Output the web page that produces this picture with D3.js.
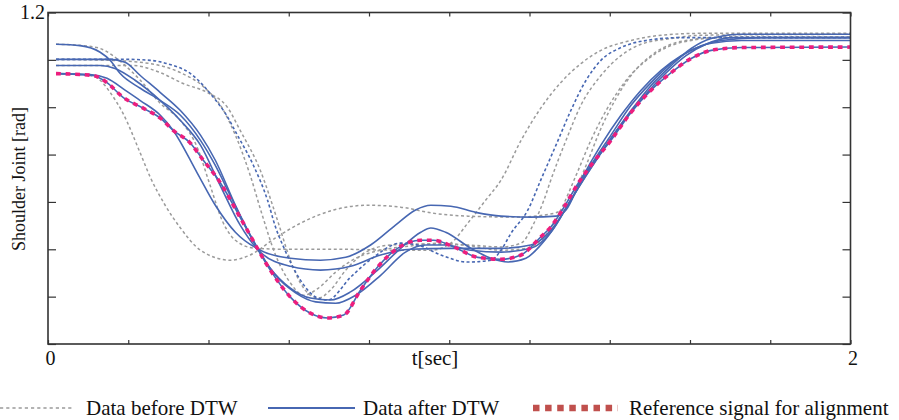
<!DOCTYPE html>
<html><head><meta charset="utf-8">
<script src="https://cdn.jsdelivr.net/npm/d3@7"></script>
<style>
body{margin:0;background:#fff}
svg{display:block}
text{font-family:"Liberation Serif","Times New Roman","DejaVu Serif",serif;fill:#111}
</style>
</head><body><svg id="c" width="899" height="420"></svg>
<script>
// ---- data: [t (sec), shoulder joint angle (rad)] ----
const reference = [[0.020,1.071],[0.112,1.067],[0.147,1.052],[0.187,1.021],[0.237,0.998],[0.280,0.977],[0.312,0.951],[0.355,0.924],[0.387,0.888],[0.422,0.850],[0.487,0.755],[0.554,0.656],[0.604,0.599],[0.654,0.565],[0.697,0.555],[0.737,0.561],[0.779,0.614],[0.821,0.662],[0.871,0.702],[0.929,0.719],[0.961,0.719],[1.011,0.705],[1.071,0.683],[1.129,0.679],[1.179,0.688],[1.228,0.726],[1.253,0.747],[1.286,0.789],[1.321,0.839],[1.353,0.877],[1.403,0.930],[1.453,0.989],[1.503,1.036],[1.553,1.073],[1.603,1.103],[1.653,1.120],[1.728,1.126],[2.000,1.127]];

const afterA = [[0.020,1.071],[0.105,1.069],[0.147,1.061],[0.192,1.036],[0.230,1.014],[0.280,0.983],[0.312,0.951],[0.372,0.861],[0.417,0.793],[0.467,0.736],[0.529,0.698],[0.604,0.681],[0.679,0.677],[0.742,0.683],[0.804,0.709],[0.866,0.751],[0.916,0.783],[0.954,0.793],[1.004,0.791],[1.066,0.778],[1.129,0.770],[1.203,0.768],[1.266,0.770],[1.291,0.783],[1.328,0.846],[1.378,0.920],[1.428,0.983],[1.478,1.036],[1.528,1.078],[1.578,1.109],[1.628,1.130],[1.678,1.141],[1.778,1.147],[2.000,1.147]];
const afterB = [[0.020,1.088],[0.130,1.088],[0.167,1.082],[0.217,1.057],[0.280,1.014],[0.330,0.972],[0.380,0.920],[0.429,0.835],[0.479,0.751],[0.529,0.694],[0.604,0.664],[0.679,0.656],[0.754,0.664],[0.829,0.688],[0.904,0.700],[1.004,0.702],[1.129,0.702],[1.203,0.709],[1.253,0.740],[1.303,0.804],[1.353,0.877],[1.403,0.941],[1.453,1.004],[1.503,1.052],[1.553,1.092],[1.603,1.120],[1.653,1.135],[1.728,1.141],[2.000,1.141]];
const afterC = [[0.020,1.133],[0.080,1.130],[0.130,1.116],[0.155,1.099],[0.180,1.071],[0.230,1.040],[0.280,1.014],[0.330,0.983],[0.380,0.930],[0.417,0.877],[0.454,0.814],[0.504,0.730],[0.554,0.660],[0.604,0.618],[0.654,0.597],[0.704,0.593],[0.754,0.610],[0.816,0.652],[0.879,0.702],[0.929,0.736],[0.954,0.745],[0.991,0.736],[1.054,0.702],[1.104,0.681],[1.146,0.673],[1.191,0.681],[1.228,0.709],[1.266,0.751],[1.303,0.804],[1.353,0.871],[1.403,0.934],[1.453,0.993],[1.503,1.046],[1.553,1.088],[1.603,1.124],[1.653,1.145],[1.728,1.154],[2.000,1.154]];
const afterD = [[0.020,1.101],[0.155,1.101],[0.192,1.095],[0.230,1.067],[0.280,1.031],[0.330,0.993],[0.380,0.941],[0.417,0.888],[0.467,0.793],[0.517,0.709],[0.567,0.645],[0.617,0.608],[0.667,0.589],[0.717,0.586],[0.767,0.603],[0.829,0.645],[0.891,0.694],[0.941,0.709],[0.991,0.709],[1.054,0.698],[1.129,0.694],[1.203,0.702],[1.253,0.736],[1.291,0.787],[1.341,0.856],[1.391,0.920],[1.441,0.977],[1.491,1.029],[1.541,1.073],[1.590,1.109],[1.640,1.133],[1.703,1.147],[2.000,1.147]];

const beforeBlue = [[0.020,1.101],[0.197,1.101],[0.255,1.099],[0.297,1.092],[0.355,1.071],[0.412,1.021],[0.442,0.987],[0.472,0.941],[0.512,0.877],[0.547,0.804],[0.567,0.747],[0.587,0.705],[0.629,0.635],[0.672,0.597],[0.697,0.593],[0.754,0.641],[0.811,0.683],[0.879,0.713],[0.921,0.709],[0.979,0.688],[1.046,0.673],[1.104,0.677],[1.129,0.698],[1.154,0.734],[1.196,0.783],[1.228,0.846],[1.266,0.920],[1.303,0.993],[1.341,1.057],[1.378,1.099],[1.428,1.126],[1.491,1.141],[1.578,1.147],[2.000,1.147]];
const beforeG1 = [[0.020,1.071],[0.105,1.067],[0.130,1.057],[0.155,1.031],[0.187,0.987],[0.230,0.903],[0.255,0.852],[0.292,0.793],[0.330,0.745],[0.380,0.698],[0.454,0.677],[0.504,0.688],[0.567,0.724],[0.629,0.755],[0.712,0.783],[0.797,0.793],[0.879,0.789],[0.961,0.776],[1.046,0.770],[1.171,0.768],[1.261,0.776],[1.303,0.804],[1.341,0.877],[1.378,0.955],[1.416,1.019],[1.453,1.067],[1.503,1.109],[1.553,1.133],[1.628,1.145],[1.728,1.149],[2.000,1.149]];
const beforeG2 = [[0.020,1.133],[0.087,1.130],[0.130,1.124],[0.162,1.109],[0.187,1.092],[0.230,1.057],[0.280,1.008],[0.330,0.972],[0.372,0.915],[0.404,0.835],[0.434,0.761],[0.467,0.719],[0.517,0.702],[0.604,0.700],[0.729,0.700],[0.879,0.698],[0.954,0.698],[1.004,0.713],[1.046,0.755],[1.091,0.804],[1.129,0.846],[1.179,0.930],[1.228,0.998],[1.278,1.052],[1.328,1.092],[1.378,1.120],[1.453,1.141],[1.528,1.152],[1.628,1.156],[2.000,1.156]];
const beforeG3 = [[0.020,1.088],[0.212,1.088],[0.280,1.073],[0.337,1.050],[0.397,1.031],[0.447,1.000],[0.479,0.951],[0.529,0.867],[0.572,0.761],[0.604,0.677],[0.629,0.629],[0.654,0.603],[0.674,0.597],[0.704,0.614],[0.742,0.656],[0.792,0.694],[0.854,0.709],[0.929,0.711],[1.046,0.709],[1.129,0.705],[1.179,0.713],[1.211,0.755],[1.236,0.804],[1.253,0.846],[1.291,0.930],[1.328,1.004],[1.378,1.067],[1.428,1.109],[1.478,1.133],[1.553,1.145],[1.628,1.152],[2.000,1.154]];
const beforeG4 = [[0.020,1.101],[0.155,1.099],[0.255,1.092],[0.330,1.073],[0.392,1.040],[0.434,0.998],[0.467,0.941],[0.504,0.856],[0.534,0.772],[0.567,0.688],[0.604,0.629],[0.637,0.603],[0.674,0.618],[0.717,0.652],[0.767,0.681],[0.829,0.698],[0.904,0.707],[0.979,0.713],[1.054,0.707],[1.129,0.698],[1.191,0.702],[1.241,0.730],[1.278,0.783],[1.316,0.856],[1.353,0.930],[1.391,0.993],[1.441,1.057],[1.491,1.099],[1.541,1.126],[1.603,1.141],[1.678,1.147],[2.000,1.147]];

const beforeGray = [beforeG1, beforeG2, beforeG3, beforeG4];
const afterDTW = [afterA, afterB, afterC, afterD];

const xTicks = [0,0.2,0.4,0.6,0.8,1.0,1.2,1.4,1.6,1.8,2.0];
const yTicks = [0.5,0.6,0.7,0.8,0.9,1.0,1.1,1.2];
const xTickLabels = {0:"0", 2:"2"};
const yTickLabels = {1.2:"1.2"};
const xTitle = "t[sec]";
const yTitle = "Shoulder Joint [rad]";
const legendLabels = ["Data before DTW","Data after DTW","Reference signal for alignment"];

// ---- drawing ----
const FONT = '"Liberation Serif","Times New Roman","DejaVu Serif",serif';
const svg = d3.select("#c");
const L=48, R=850.5, T=12.5, B=344;
const x = d3.scaleLinear().domain([0,2]).range([L,R]);
const y = d3.scaleLinear().domain([0.5,1.2]).range([B,T]);

const GRAY="#9b9b9b", BLUE="#4767b2", PINK="#ec1e7e", LEGRED="#c0504d", AX="#333";

svg.append("defs").append("clipPath").attr("id","clip")
  .append("rect").attr("x",L).attr("y",T).attr("width",R-L).attr("height",B-T);

const line = d3.line().x(d=>x(d[0])).y(d=>y(d[1])).curve(d3.curveMonotoneX);
const g = svg.append("g").attr("clip-path","url(#clip)");

beforeGray.forEach(s=>g.append("path").attr("d",line(s)).attr("fill","none")
  .attr("stroke",GRAY).attr("stroke-width",1.5).attr("stroke-dasharray","3,2.6"));
g.append("path").attr("d",line(beforeBlue)).attr("fill","none")
  .attr("stroke",BLUE).attr("stroke-width",1.6).attr("stroke-dasharray","3,2.4");
afterDTW.forEach(s=>g.append("path").attr("d",line(s)).attr("fill","none")
  .attr("stroke",BLUE).attr("stroke-width",1.6));
g.append("path").attr("d",line(reference)).attr("fill","none")
  .attr("stroke",BLUE).attr("stroke-width",1.6);
g.append("path").attr("d",line(reference)).attr("fill","none")
  .attr("stroke",PINK).attr("stroke-width",3.6).attr("stroke-dasharray","4.8,4.8");

// axes (inward ticks, box)
function styleAxis(sel){
  sel.attr("font-family",null).attr("font-size",null);
  sel.select(".domain").remove();
  sel.selectAll(".tick line").attr("stroke",AX).attr("stroke-width",1.2);
  sel.selectAll(".tick text").style("font-size","20px").style("font-family",FONT).attr("fill","#111");
}
svg.append("g").attr("transform",`translate(0,${B})`)
  .call(d3.axisBottom(x).tickValues(xTicks).tickSize(-4).tickPadding(7)
    .tickFormat(d=>xTickLabels[+d.toFixed(1)]||""))
  .call(styleAxis)
  .selectAll(".tick text").attr("dx","2");
svg.append("g").attr("transform",`translate(0,${T})`)
  .call(d3.axisTop(x).tickValues(xTicks).tickSize(-4).tickFormat(""))
  .call(styleAxis);
svg.append("g").attr("transform",`translate(${L},0)`)
  .call(d3.axisLeft(y).tickValues(yTicks).tickSize(-8).tickPadding(3)
    .tickFormat(d=>yTickLabels[+d.toFixed(1)]||""))
  .call(styleAxis);
svg.append("g").attr("transform",`translate(${R},0)`)
  .call(d3.axisRight(y).tickValues(yTicks).tickSize(-8).tickFormat(""))
  .call(styleAxis);

svg.append("rect").attr("x",L).attr("y",T).attr("width",R-L).attr("height",B-T)
  .attr("fill","none").attr("stroke",AX).attr("stroke-width",1.6);

svg.append("text").attr("x",435).attr("y",365).attr("text-anchor","middle")
  .style("font-family",FONT).style("font-size","21px").text(xTitle);
svg.append("text").attr("transform","translate(25,179) rotate(-90)")
  .attr("text-anchor","middle").style("font-family",FONT).style("font-size","18px").text(yTitle);

// legend
const LY=408;
const lg = svg.append("g").style("font-family",FONT);
lg.append("line").attr("x1",0).attr("x2",74).attr("y1",LY).attr("y2",LY)
  .attr("stroke",GRAY).attr("stroke-width",1.6).attr("stroke-dasharray","3.2,3");
lg.append("text").attr("x",86).attr("y",LY+6.5).style("font-size","21px").text(legendLabels[0]);
lg.append("line").attr("x1",268).attr("x2",355).attr("y1",LY).attr("y2",LY)
  .attr("stroke",BLUE).attr("stroke-width",2);
lg.append("text").attr("x",363).attr("y",LY+6.5).style("font-size","21px").text(legendLabels[1]);
lg.append("line").attr("x1",533).attr("x2",618).attr("y1",LY).attr("y2",LY)
  .attr("stroke",LEGRED).attr("stroke-width",6.5).attr("stroke-dasharray","6.5,5.6");
lg.append("text").attr("x",629).attr("y",LY+6.5).style("font-size","21px").text(legendLabels[2]);
</script>
</body></html>
